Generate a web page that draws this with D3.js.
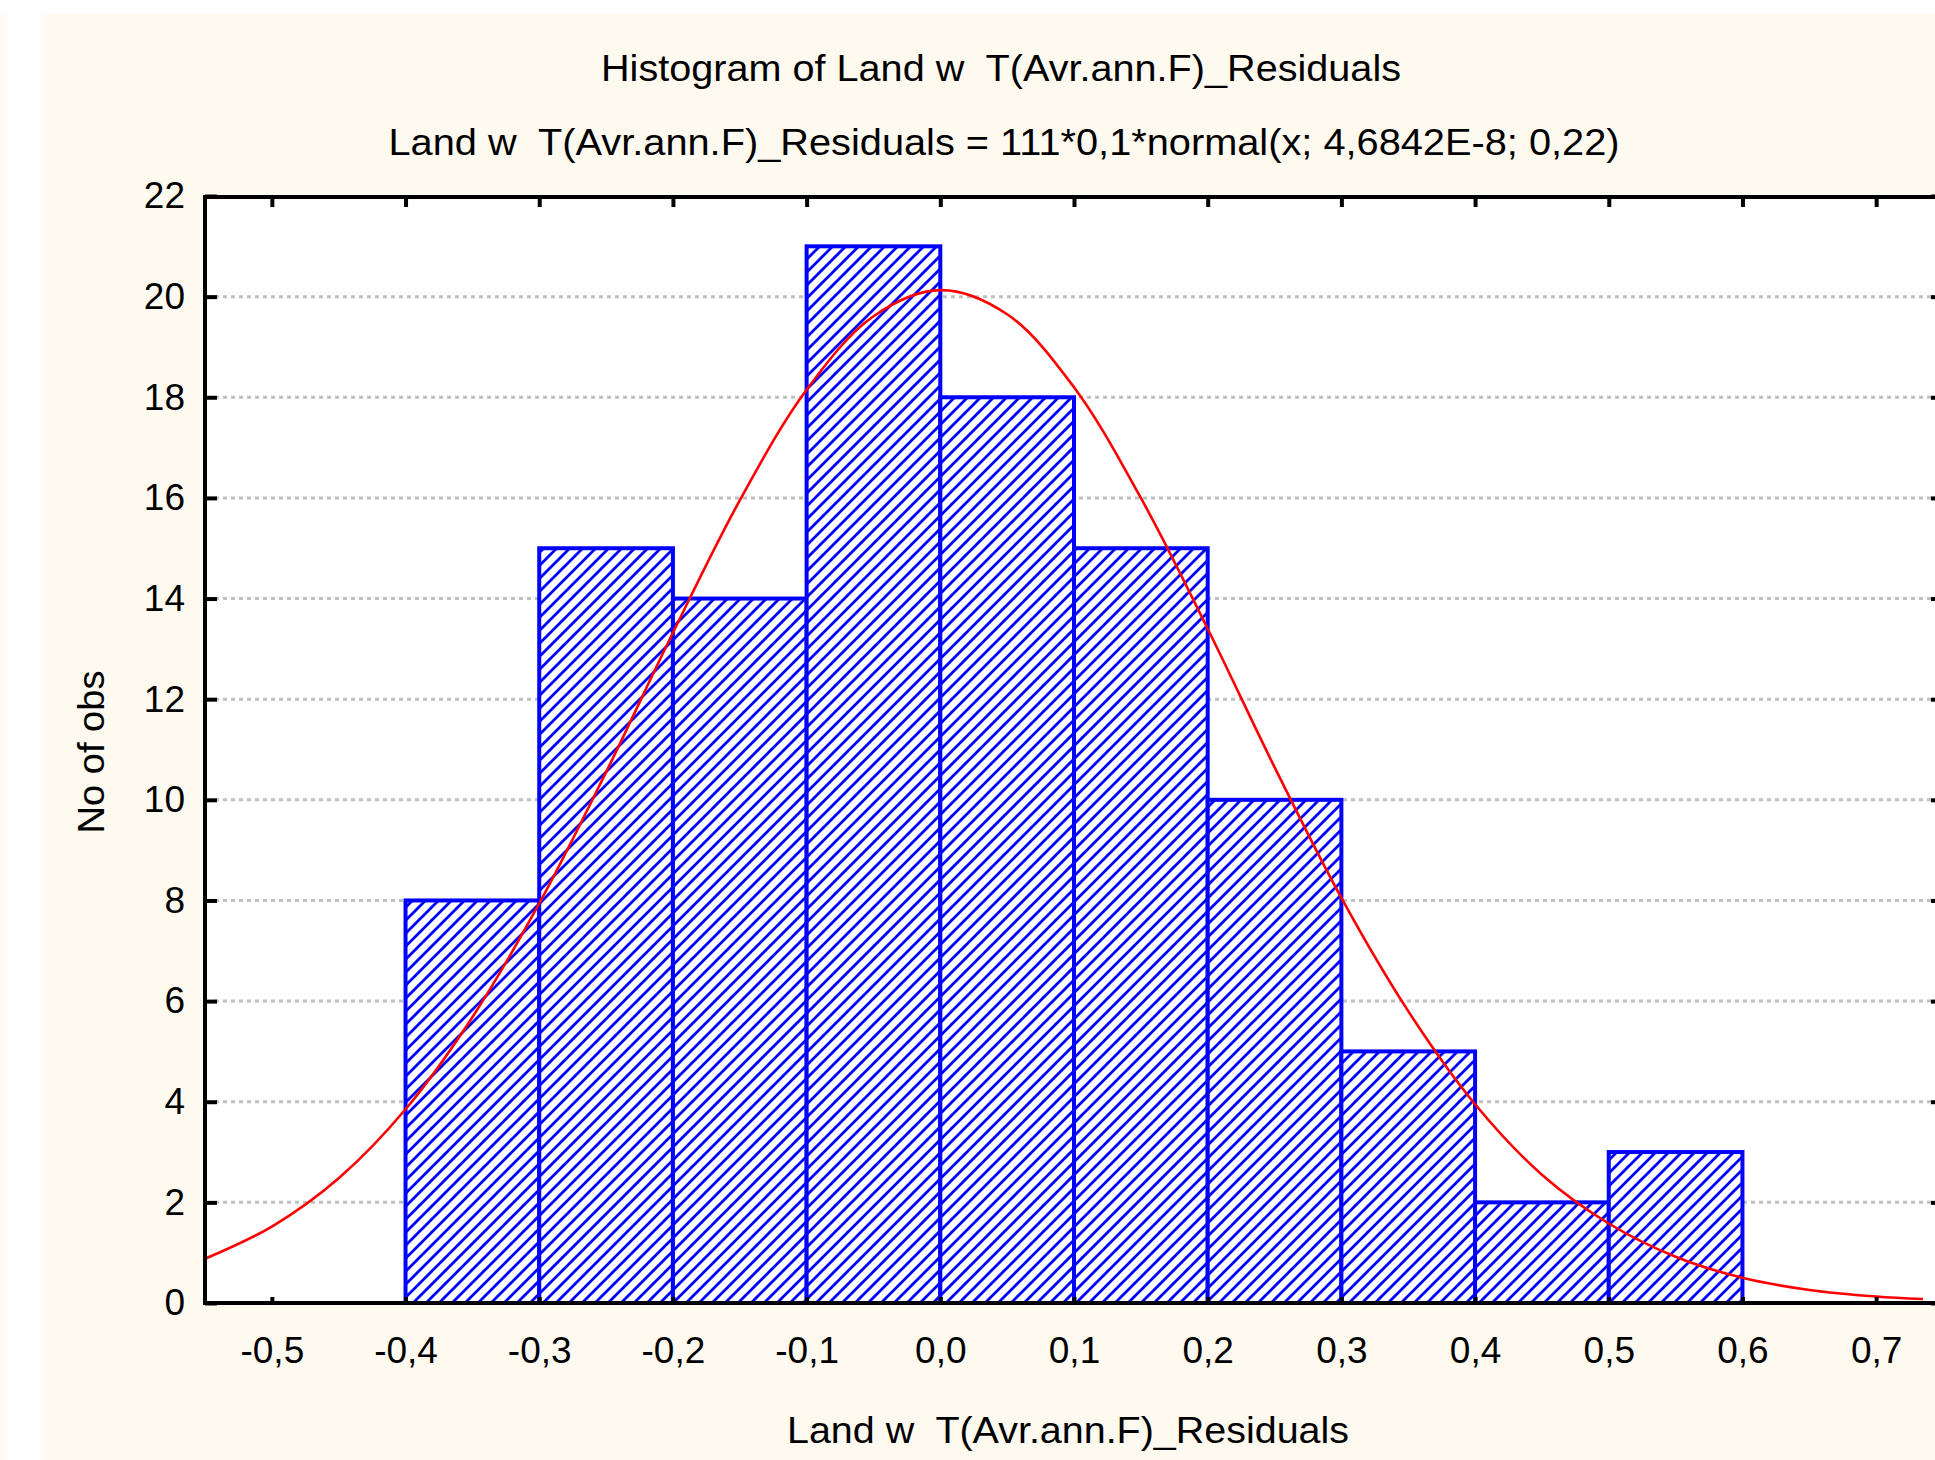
<!DOCTYPE html>
<html>
<head>
<meta charset="utf-8">
<script src="https://cdn.jsdelivr.net/npm/d3@7"></script>
<style>
  html, body { margin: 0; padding: 0; background: #ffffff; }
  svg { display: block; }
  text { white-space: pre; }
</style>
</head>
<body>
<div id="chart"></div>
<script>
// histogram bins (lower edges) and counts
var binStarts = [-0.4, -0.3, -0.2, -0.1, 0.0, 0.1, 0.2, 0.3, 0.4, 0.5];
var binWidth  = 0.1;
var counts    = [8, 15, 14, 21, 18, 15, 10, 5, 2, 3];

// fitted normal curve
var curveX = [-0.55, -0.5, -0.45, -0.4, -0.35, -0.3, -0.25, -0.2, -0.15, -0.1, -0.05, 0.0,
              0.05, 0.1, 0.15, 0.2, 0.25, 0.3, 0.35, 0.4, 0.45, 0.5, 0.55, 0.6, 0.65, 0.7, 0.735];
var curveY = [0.88, 1.52, 2.48, 3.85, 5.68, 7.94, 10.55, 13.32, 15.95, 18.15, 19.61, 20.13,
              19.65, 18.2, 16.0, 13.4, 10.65, 8.05, 5.8, 3.95, 2.55, 1.58, 0.92, 0.5, 0.26, 0.13, 0.08];

// ticks
var xTicks      = [-0.5, -0.4, -0.3, -0.2, -0.1, 0.0, 0.1, 0.2, 0.3, 0.4, 0.5, 0.6, 0.7];
var xTickLabels = ['-0,5', '-0,4', '-0,3', '-0,2', '-0,1', '0,0', '0,1', '0,2', '0,3', '0,4', '0,5', '0,6', '0,7'];
var yTicks      = [0, 2, 4, 6, 8, 10, 12, 14, 16, 18, 20, 22];
var gridTicks   = [2, 4, 6, 8, 10, 12, 14, 16, 18, 20];

var title    = 'Histogram of Land w  T(Avr.ann.F)_Residuals';
var subtitle = 'Land w  T(Avr.ann.F)_Residuals = 111*0,1*normal(x; 4,6842E-8; 0,22)';
var xTitle   = 'Land w  T(Avr.ann.F)_Residuals';
var yTitle   = 'No of obs';

var W = 1935, H = 1460;
var plot = { left: 205, top: 197, right: 1943, bottom: 1303 };
var font = '"Liberation Sans", Arial, sans-serif';
var fs = 37;

var x = d3.scaleLinear().domain([-0.55, 0.75]).range([plot.left, plot.right]);
var y = d3.scaleLinear().domain([0, 22]).range([plot.bottom, 196]);

var svg = d3.select('#chart').append('svg')
  .attr('width', W)
  .attr('height', H);

// hatch pattern for the bars
var defs = svg.append('defs');
defs.append('pattern')
  .attr('id', 'hatch')
  .attr('patternUnits', 'userSpaceOnUse')
  .attr('width', 13)
  .attr('height', 13)
  .append('path')
  .attr('d', 'M-2,2 L2,-2 M0,13 L13,0 M11,15 L15,11')
  .attr('stroke', '#0000ff')
  .attr('stroke-width', 2.8);

// background
svg.append('rect').attr('x', 43).attr('y', 13).attr('width', W - 43).attr('height', H - 13).attr('fill', '#fffaf0');
svg.append('rect').attr('x', 0).attr('y', 13).attr('width', 5).attr('height', H - 13).attr('fill', '#fffaf0');

// plot area
svg.append('rect')
  .attr('x', plot.left).attr('y', plot.top)
  .attr('width', plot.right - plot.left).attr('height', plot.bottom - plot.top)
  .attr('fill', '#ffffff');

// dotted grid lines
svg.append('g').selectAll('line')
  .data(gridTicks)
  .enter().append('line')
  .attr('x1', plot.left + 10).attr('x2', W)
  .attr('y1', function(d) { return y(d); })
  .attr('y2', function(d) { return y(d); })
  .attr('stroke', '#c0c0c0')
  .attr('stroke-width', 3)
  .attr('stroke-dasharray', '4,4');

// bars
var bars = svg.append('g').selectAll('g')
  .data(counts)
  .enter().append('g');

bars.append('rect')
  .attr('x', function(d, i) { return x(binStarts[i]); })
  .attr('y', function(d) { return y(d); })
  .attr('width', function(d, i) { return x(binStarts[i] + binWidth) - x(binStarts[i]); })
  .attr('height', function(d) { return y(0) - y(d); })
  .attr('fill', '#ffffff');

bars.append('rect')
  .attr('x', function(d, i) { return x(binStarts[i]); })
  .attr('y', function(d) { return y(d); })
  .attr('width', function(d, i) { return x(binStarts[i] + binWidth) - x(binStarts[i]); })
  .attr('height', function(d) { return y(0) - y(d); })
  .attr('fill', 'url(#hatch)')
  .attr('stroke', '#0000ff')
  .attr('stroke-width', 4);

// normal curve
var line = d3.line()
  .x(function(d, i) { return x(curveX[i]); })
  .y(function(d) { return y(d); })
  .curve(d3.curveCatmullRom);

svg.append('path')
  .datum(curveY)
  .attr('d', line)
  .attr('fill', 'none')
  .attr('stroke', '#ff0000')
  .attr('stroke-width', 2.6);

// frame
svg.append('line').attr('x1', plot.left).attr('x2', W).attr('y1', plot.top).attr('y2', plot.top)
  .attr('stroke', '#000').attr('stroke-width', 4);
svg.append('line').attr('x1', plot.left).attr('x2', W).attr('y1', plot.bottom).attr('y2', plot.bottom)
  .attr('stroke', '#000').attr('stroke-width', 4);
svg.append('line').attr('x1', plot.left).attr('x2', plot.left).attr('y1', plot.top - 2).attr('y2', plot.bottom + 2)
  .attr('stroke', '#000').attr('stroke-width', 4);

// axes
function styleAxis(g) {
  g.select('.domain').remove();
  g.selectAll('.tick line').attr('stroke', '#000').attr('stroke-width', 4);
  g.selectAll('.tick text')
    .attr('fill', '#000')
    .style('font-family', font)
    .style('font-size', fs + 'px');
}

svg.append('g')
  .attr('transform', 'translate(0,' + plot.bottom + ')')
  .call(d3.axisBottom(x).tickValues(xTicks).tickSize(-6).tickPadding(34)
    .tickFormat(function(d, i) { return xTickLabels[i]; }))
  .call(styleAxis);

svg.append('g')
  .attr('transform', 'translate(0,' + plot.top + ')')
  .call(d3.axisTop(x).tickValues(xTicks).tickSize(-10).tickFormat(''))
  .call(styleAxis);

svg.append('g')
  .attr('transform', 'translate(' + plot.left + ',0)')
  .call(d3.axisLeft(y).tickValues(yTicks).tickSize(-12).tickPadding(20))
  .call(styleAxis);

svg.append('g')
  .attr('transform', 'translate(' + plot.right + ',0)')
  .call(d3.axisRight(y).tickValues(yTicks).tickSize(-12).tickFormat(''))
  .call(styleAxis);

// titles
svg.append('text')
  .attr('x', 1001).attr('y', 81)
  .attr('text-anchor', 'middle')
  .attr('textLength', 800).attr('lengthAdjust', 'spacingAndGlyphs')
  .style('font-family', font).style('font-size', fs + 'px')
  .text(title);

svg.append('text')
  .attr('x', 1004).attr('y', 155)
  .attr('text-anchor', 'middle')
  .attr('textLength', 1231).attr('lengthAdjust', 'spacingAndGlyphs')
  .style('font-family', font).style('font-size', fs + 'px')
  .text(subtitle);

svg.append('text')
  .attr('x', 1068).attr('y', 1443)
  .attr('text-anchor', 'middle')
  .attr('textLength', 562).attr('lengthAdjust', 'spacingAndGlyphs')
  .style('font-family', font).style('font-size', fs + 'px')
  .text(xTitle);

svg.append('text')
  .attr('transform', 'translate(104,752) rotate(-90)')
  .attr('text-anchor', 'middle')
  .attr('textLength', 163).attr('lengthAdjust', 'spacingAndGlyphs')
  .style('font-family', font).style('font-size', fs + 'px')
  .text(yTitle);
</script>
</body>
</html>
